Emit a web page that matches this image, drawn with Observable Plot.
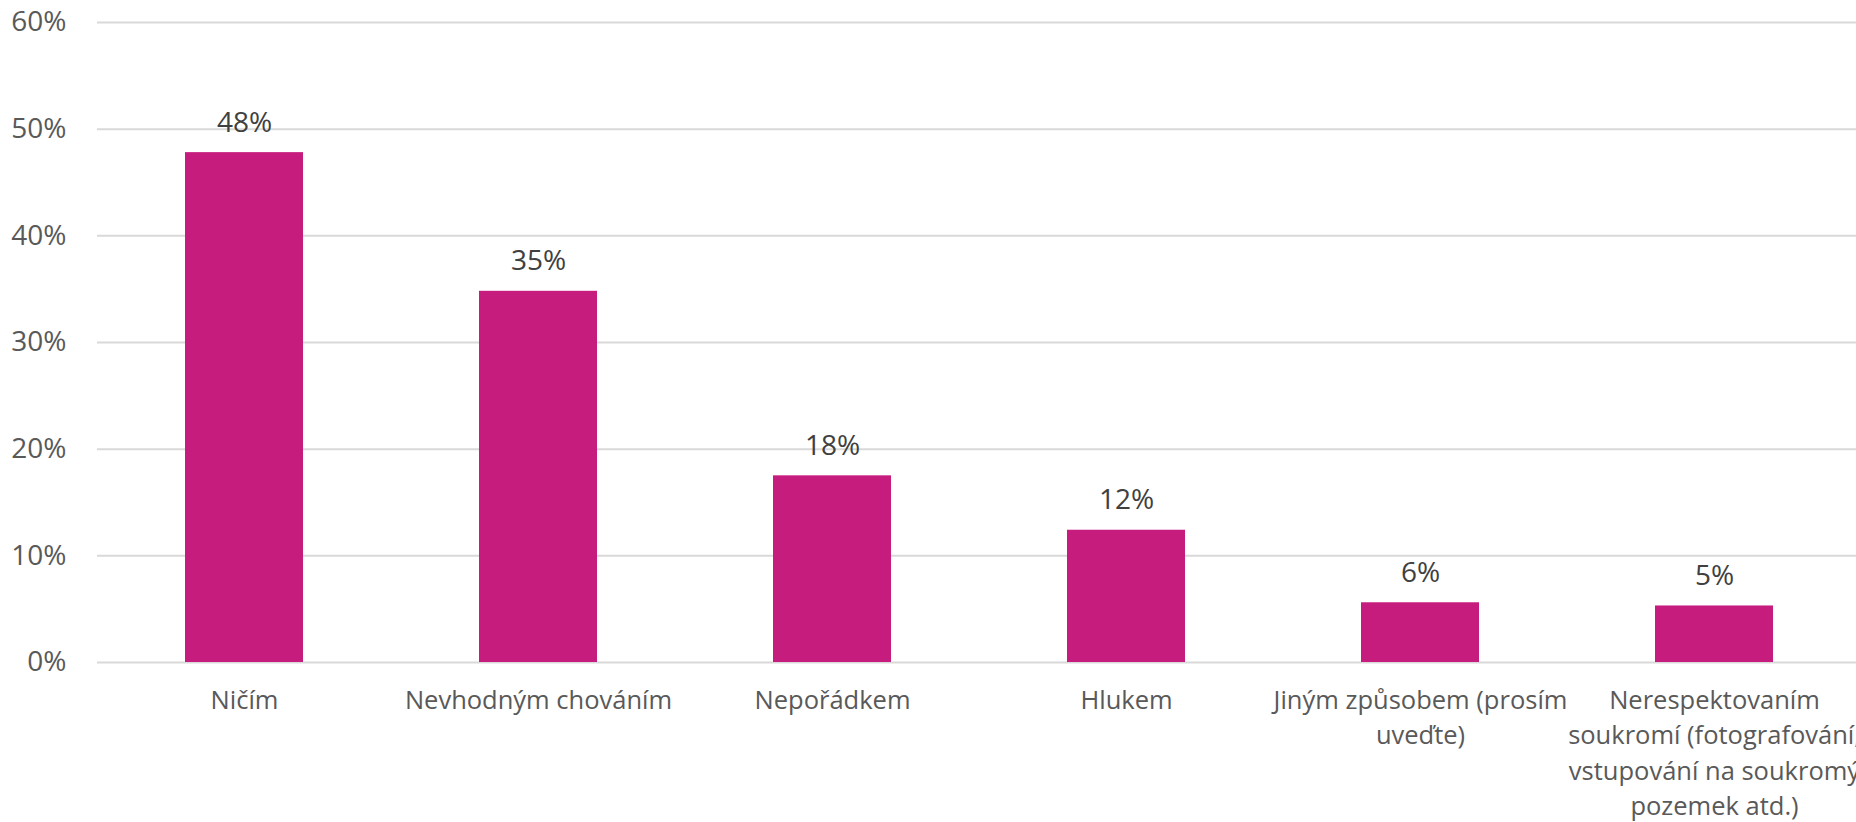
<!DOCTYPE html>
<html>
<head>
<meta charset="utf-8">
<script src="https://cdn.jsdelivr.net/npm/d3@7"></script>
<script src="https://cdn.jsdelivr.net/npm/@observablehq/plot@0.6"></script>
<style>
  html, body { margin: 0; padding: 0; background: #fff; }
  #chart svg { overflow: visible; display: block; }
</style>
</head>
<body>
<div id="chart"></div>
<script>
const categories = [
  "Ničím",
  "Nevhodným chováním",
  "Nepořádkem",
  "Hlukem",
  "Jiným způsobem (prosím\nuveďte)",
  "Nerespektovaním\nsoukromí (fotografování,\nvstupování na soukromý\npozemek atd.)"
];
const values = [47.8, 34.8, 17.5, 12.4, 5.6, 5.3];
const valueLabels = ["48%", "35%", "18%", "12%", "6%", "5%"];
const yTicks = [0, 10, 20, 30, 40, 50, 60];

const data = categories.map((c, i) => ({category: c, value: values[i], label: valueLabels[i]}));

const font = "'Open Sans', 'Noto Sans', sans-serif";

const chart = Plot.plot({
  width: 1856,
  height: 822,
  marginLeft: 97,
  marginRight: -5,
  marginTop: 22,
  marginBottom: 160,
  style: {fontFamily: font, fontSize: "25px", color: "#595959", background: "#fff"},
  x: {domain: categories, paddingInner: 0.6, paddingOuter: 0.3, label: null},
  y: {domain: [0, 60], label: null},
  marks: [
    Plot.gridY(yTicks, {stroke: "#d9d9d9", strokeOpacity: 1, strokeWidth: 2}),
    Plot.axisY(yTicks, {tickSize: 0, tickPadding: 31, tickFormat: d => d + "%", fontSize: 28, fill: "#595959", label: null}),
    Plot.axisX({tickSize: 0, tickPadding: 21, fontSize: 25.5, fill: "#595959", lineHeight: 1.39, label: null}),
    Plot.barY(data, {x: "category", y: "value", fill: "#c61c7e"}),
    Plot.text(data, {x: "category", y: "value", text: "label", dy: -30, fontSize: 28, fill: "#404040"})
  ]
});
document.getElementById("chart").appendChild(chart);
</script>
</body>
</html>
